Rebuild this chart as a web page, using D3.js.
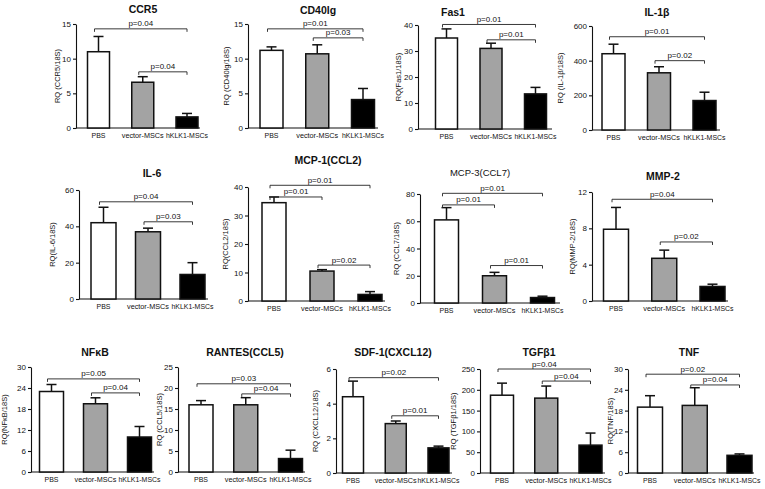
<!DOCTYPE html>
<html><head><meta charset="utf-8">
<script src="https://cdn.jsdelivr.net/npm/d3@7"></script>
<style>body{margin:0;background:#fff}svg{display:block}text{font-family:"Liberation Sans",Arial,sans-serif;fill:#111}</style>
</head><body><svg id="c" width="765" height="489"></svg>
<script>
// ---- data ----
const titles = ["CCR5","CD40lg","Fas1","IL-1β","IL-6","MCP-1(CCL2)","MCP-3(CCL7)","MMP-2","NFκB","RANTES(CCL5)","SDF-1(CXCL12)","TGFβ1","TNF"];
const groups = ["PBS","vector-MSCs","hKLK1-MSCs"];
const yLabels = ["RQ (CCR5/18S)","RQ (CD40lg/18S)","RQ(Fas1/18S)","RQ (IL-1β/18S)","RQ(IL-6/18S)","RQ(CCL2/18S)","RQ (CCL7/18S)","RQ(MMP-2/18S)","RQ(NFκB/18S)","RQ (CCL5/18S)","RQ (CXCL12/18S)","RQ (TGFβ1/18S)","RQ(TNF/18S)"];
const means = [[11,6.6,1.6],[11.2,10.7,4.1],[35,31,13.5],[440,330,170],[42,37,13.5],[34.5,10.5,2.3],[61,20,4],[7.9,4.7,1.6],[23,19.5,10],[16,16,3.2],[4.4,2.85,1.45],[187,180,67],[19,19.5,5.1]];
const errors = [[2.2,0.8,0.5],[0.5,1.3,1.6],[3.5,2,2.5],[55,35,48],[8.5,2,6.5],[2,0.5,1],[9,2.5,1],[2.4,0.9,0.25],[2,1.7,3],[1,1.7,2],[0.9,0.15,0.1],[29,29,29],[3.3,5.1,0.4]];
const yMax = [15,15,40,600,60,40,80,12,30,25,6,250,30];
const tickStep = [5,5,10,200,20,10,20,4,6,5,2,50,6];
// brackets: [from, to, label, level]
const brackets = [
 [[0,2,"p=0.04",14.3],[1,2,"p=0.04",8.1]],
 [[0,2,"p=0.01",14.3],[1,2,"p=0.03",13]],
 [[0,2,"p=0.01",40.2],[1,2,"p=0.01",34.3]],
 [[0,2,"p=0.01",538],[1,2,"p=0.02",400]],
 [[0,2,"p=0.04",53.5],[1,2,"p=0.03",42.5]],
 [[0,2,"p=0.01",40.6],[0,1,"p=0.01",36.5],[1,2,"p=0.02",12.6]],
 [[0,2,"p=0.01",80.5],[0,1,"p=0.01",72],[1,2,"p=0.01",27.5]],
 [[0,2,"p=0.04",11.2],[1,2,"p=0.02",6.5]],
 [[0,2,"p=0.05",26.6],[1,2,"p=0.04",22.6]],
 [[0,2,"p=0.03",21],[1,2,"p=0.04",18.6]],
 [[0,2,"p=0.02",5.5],[1,2,"p=0.01",3.3]],
 [[0,2,"p=0.04",250],[1,2,"p=0.04",221]],
 [[0,2,"p=0.02",28.5],[1,2,"p=0.04",25.4]]
];

// ---- layout (pixels) ----
// axisX, top, bottom, firstCenter, lastCenter, barWidth, yLabelX, titleX, titleY, xAxisEnd
const layout = [
 [76,24,128,98.5,187,22,60,143,13,200],
 [248,24,128,271.5,363,23,229,318,14,378],
 [418,25,129,446.5,535.5,22,401,453,16,552],
 [592,26,130,613.5,704.5,23,563,657,16,720],
 [79,190,299,103.5,192.5,25,55,152,177,208],
 [248,187,301,274,370,24,228,328,164,385],
 [420,194,303,446.5,542.5,24,399,480,176,560],
 [592,192,301,616,712.5,25,575,663,180,728],
 [31,367,472,51.5,139.5,24,7,95,356,154],
 [178,367,472,201,290.5,24,162,245,356,305],
 [336,369,473,353,438.5,21,318,393,356,452],
 [480,369,473,502,590.5,23,456,539,356,605],
 [628,369,473,650,739.5,25,613,689,356,754]
];
const fills = ["#ffffff","#a3a3a3","#000000"];

const svg = d3.select("#c");

titles.forEach((t, i) => {
  const [ax, top, bot, c1, c3, bw, lx, tx, ty, xEnd] = layout[i];
  const g = svg.append("g");
  const y = d3.scaleLinear().domain([0, yMax[i]]).range([bot, top]);
  const x = d3.scalePoint().domain(groups).range([c1, c3]);
  const ticks = d3.range(0, yMax[i] + tickStep[i] / 2, tickStep[i]);

  // y axis
  const ya = g.append("g").attr("transform", `translate(${ax},0)`)
    .call(d3.axisLeft(y).tickValues(ticks).tickSize(3).tickSizeOuter(0).tickPadding(2).tickFormat(d3.format("d")));
  ya.select(".domain").attr("stroke", "#111").attr("stroke-width", 1.1);
  ya.selectAll(".tick line").attr("stroke", "#111").attr("stroke-width", 1.1);
  ya.selectAll(".tick text").attr("font-size", 8).attr("font-family", "Liberation Sans, Arial, sans-serif").attr("fill", "#111");

  // x axis line
  g.append("line").attr("x1", ax).attr("x2", xEnd).attr("y1", bot).attr("y2", bot)
    .attr("stroke", "#111").attr("stroke-width", 1.2);

  // x labels
  g.selectAll(".xl").data(groups).join("text")
    .attr("x", d => x(d)).attr("y", bot + 10)
    .attr("text-anchor", "middle").attr("font-size", 7).attr("textLength", (d, k) => k === 0 ? 14 : 42)
    .attr("lengthAdjust", "spacingAndGlyphs")
    .text(d => d);

  // error bars
  groups.forEach((gname, k) => {
    const cx = x(gname), m = means[i][k], e = errors[i][k];
    g.append("line").attr("x1", cx).attr("x2", cx).attr("y1", y(m)).attr("y2", y(m + e))
      .attr("stroke", "#111").attr("stroke-width", 1.5);
    g.append("line").attr("x1", cx - 5).attr("x2", cx + 5).attr("y1", y(m + e)).attr("y2", y(m + e))
      .attr("stroke", "#111").attr("stroke-width", 1.5);
  });

  // bars
  g.selectAll(".bar").data(groups).join("rect")
    .attr("x", d => x(d) - bw / 2).attr("width", bw)
    .attr("y", (d, k) => y(means[i][k])).attr("height", (d, k) => bot - y(means[i][k]))
    .attr("fill", (d, k) => fills[k]).attr("stroke", "#111").attr("stroke-width", 1.5);

  // brackets
  brackets[i].forEach(([a, b, lab, lvl]) => {
    const x1 = x(groups[a]) - 4, x2 = x(groups[b]), yy = y(lvl);
    g.append("path").attr("d", `M${x1},${yy + 3}V${yy}H${x2}V${yy + 3}`)
      .attr("fill", "none").attr("stroke", "#222").attr("stroke-width", 0.9);
    g.append("text").attr("x", (x1 + x2) / 2).attr("y", yy - 2.5)
      .attr("text-anchor", "middle").attr("font-size", 8).text(lab);
  });

  // y label
  g.append("text").attr("transform", `translate(${lx},${(top + bot) / 2}) rotate(-90)`)
    .attr("text-anchor", "middle").attr("font-size", 7.5).text(yLabels[i]);

  // title
  g.append("text").attr("x", tx).attr("y", ty).attr("text-anchor", "middle")
    .attr("font-size", i === 6 ? 9.5 : 10.5).attr("font-weight", i === 6 ? "normal" : "bold")
    .text(t);
});
</script></body></html>
